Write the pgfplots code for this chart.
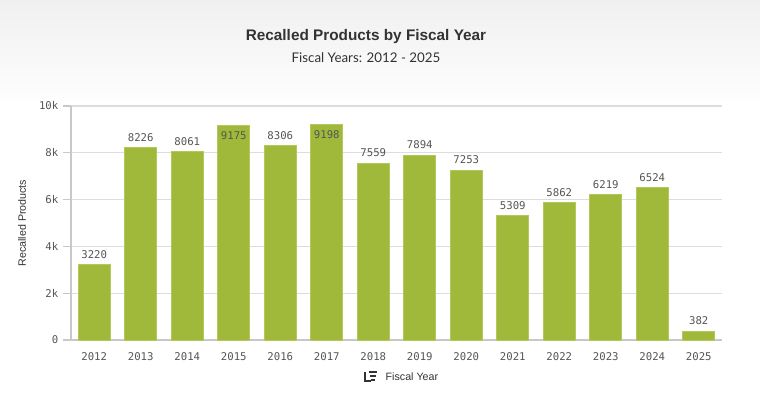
\documentclass[border=0pt]{standalone}
\usepackage{pgfplots}
\pgfplotsset{compat=1.18}
\usepackage{fontspec}
\setmainfont{Liberation Sans}
\newfontfamily\monofont{DejaVu Sans Mono}
\newfontfamily\subfont{Lato}
\definecolor{barcol}{HTML}{A0B93A}
\definecolor{baredge}{HTML}{B2C95A}
\definecolor{gridc}{HTML}{DDDDDD}
\definecolor{axc}{HTML}{C8C8C8}
\definecolor{tickc}{HTML}{555555}
\definecolor{titlec}{HTML}{333333}
\begin{document}
\begin{tikzpicture}
\begin{scope}[x=0.75pt,y=0.75pt]
\fill[white] (0,0) rectangle (760,408);
\shade[top color=black!6, bottom color=white] (0,408) rectangle (760,300);
\path[use as bounding box] (0,0) rectangle (760,408);
\node[font=\fontsize{11.5}{14}\selectfont\bfseries, text=titlec] at (366,371) {Recalled Products by Fiscal Year};
\node[font=\subfont\fontsize{10}{12}\selectfont, text=titlec] at (366,350) {Fiscal Years: 2012 - 2025};
\end{scope}
\begin{axis}[
  at={(53.25pt,51pt)}, anchor=south west,
  scale only axis, width=488.25pt, height=175.5pt,
  xmin=-0.5, xmax=13.5, ymin=0, ymax=10000,
  xtick={0,...,13},
  xticklabels={2012,2013,2014,2015,2016,2017,2018,2019,2020,2021,2022,2023,2024,2025},
  ytick={0,2000,4000,6000,8000,10000},
  yticklabels={0,2k,4k,6k,8k,10k},
  scaled y ticks=false,
  ymajorgrids, grid style={gridc, line width=0.8pt},
  axis x line*=bottom, axis y line*=left,
  x axis line style={axc, line width=0.8pt, -},
  y axis line style={axc, line width=0.8pt, -},
  xtick style={draw=none},
  ytick style={axc, line width=0.8pt},
  major tick length=6pt,
  tick align=outside,
  ticklabel style={font=\monofont\fontsize{8}{10}\selectfont, text=tickc},
  xticklabel style={yshift=0pt},
  ylabel={Recalled Products},
  every axis y label/.style={at={(axis description cs:-0.0753,0.5)}, rotate=90, anchor=center, font=\fontsize{8}{10}\selectfont, text=titlec},
  ybar, bar width=24pt, bar shift=0pt,
  nodes near coords,
  nodes near coords style={font=\monofont\fontsize{8}{10}\selectfont, text=tickc},
  point meta=explicit symbolic,
  clip=false,
]
\addplot[fill=barcol, draw=baredge, line width=0.6pt, nodes near coords style={anchor=south, yshift=1pt}] coordinates {
(0,3220) [3220] (1,8226) [8226] (2,8061) [8061] (4,8306) [8306]
(6,7559) [7559] (7,7894) [7894] (8,7253) [7253] (9,5309) [5309]
(10,5862) [5862] (11,6219) [6219] (12,6524) [6524] (13,382) [382]
};
\addplot[fill=barcol, draw=baredge, line width=0.6pt, nodes near coords style={anchor=north, yshift=-1pt}] coordinates {
(3,9175) [9175] (5,9198) [9198]
};
\end{axis}
\begin{scope}[x=0.75pt,y=0.75pt]
\begin{scope}[draw=titlec, line width=0.8pt]
\draw (365,36) -- (365,27) -- (371,27);
\draw (369,36) -- (377,36);
\draw (370,32) -- (376,32);
\draw (371,28) -- (375,28);
\end{scope}
\node[font=\fontsize{8}{10}\selectfont, text=titlec, anchor=west] at (381,31) {Fiscal Year};
\end{scope}
\end{tikzpicture}
\end{document}
